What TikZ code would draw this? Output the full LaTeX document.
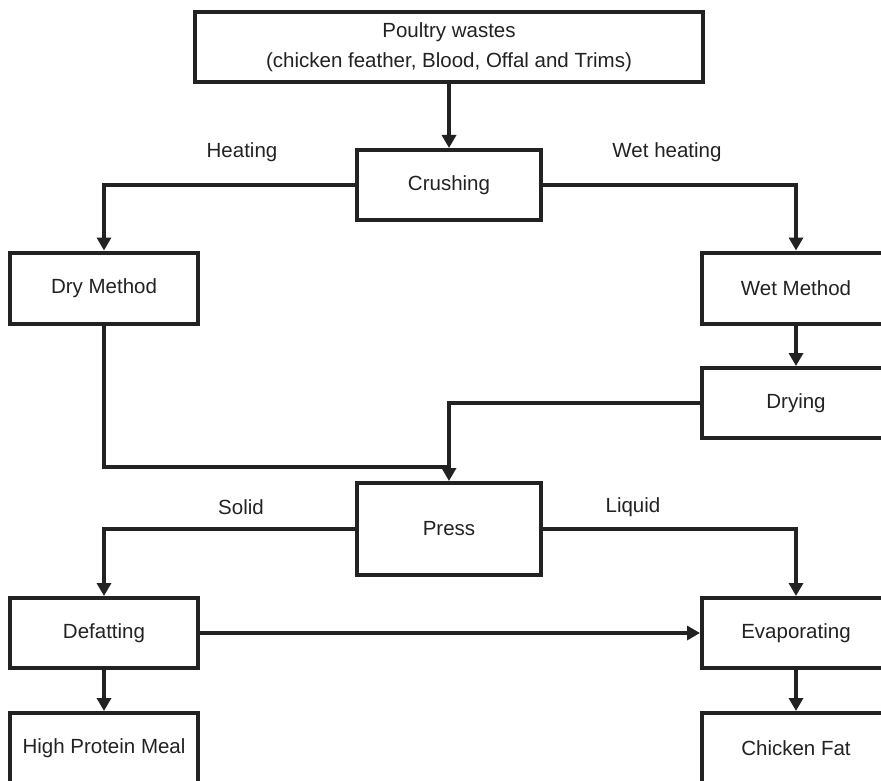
\documentclass[tikz,border=0pt]{standalone}
\usepackage{fontspec}
\setmainfont{Liberation Sans}
\usetikzlibrary{arrows.meta}
\definecolor{ink}{HTML}{222222}
\begin{document}
\begin{tikzpicture}[x=1pt,y=-1pt,
  box/.style={draw=ink,line width=4pt,fill=white,inner sep=0pt,text=ink,
    font=\fontsize{20.5}{30}\selectfont,align=center},
  flow/.style={draw=ink,line width=3.8pt,line join=miter,
    -{Triangle[width=14pt,length=13pt]}},
  link/.style={draw=ink,line width=3.8pt,line join=miter},
  lbl/.style={text=ink,font=\fontsize{20.5}{24}\selectfont,inner sep=0pt}]
\useasboundingbox (0,0) rectangle (881,781);
\clip (0,0) rectangle (881,781);
% process steps
\node[box,minimum width=508pt,minimum height=70pt] (waste) at (449,47)
  {Poultry wastes\\(chicken feather, Blood, Offal and Trims)};
\node[box,minimum width=184pt,minimum height=70pt] (crush) at (449,185) {Crushing};
\node[box,minimum width=188pt,minimum height=71pt] (dry) at (104,288) {Dry Method};
\node[box,minimum width=188pt,minimum height=71pt] (wet) at (796,288) {Wet Method};
\node[box,minimum width=188pt,minimum height=70pt] (drying) at (796,403) {Drying};
\node[box,minimum width=184pt,minimum height=92pt] (press) at (449,529) {Press};
\node[box,minimum width=188pt,minimum height=70pt] (defat) at (104,633) {Defatting};
\node[box,minimum width=188pt,minimum height=70pt] (evap) at (796,633) {Evaporating};
\node[box,minimum width=188pt,minimum height=70pt] (meal) at (104,748) {High Protein Meal};
\node[box,minimum width=188pt,minimum height=70pt] (fat) at (796,748) {Chicken Fat};
% bends of the routed connectors
\coordinate (dryturn) at (104,467);
\coordinate (dryjoin) at (449,467);
\coordinate (dryingturn) at (449,403);
% connectors
\draw[flow] (waste.south) -- (crush.north);
\draw[flow] (crush.west) -| (dry.north);
\draw[flow] (crush.east) -| (wet.north);
\draw[flow] (wet.south) -- (drying.north);
\draw[link] (dry.south) -- (dryturn) -- (dryjoin);
\draw[flow] (drying.west) -- (dryingturn) -- (press.north);
\draw[flow] (press.west) -| (defat.north);
\draw[flow] (press.east) -| (evap.north);
\draw[flow] (defat.east) -- (evap.west);
\draw[flow] (defat.south) -- (meal.north);
\draw[flow] (evap.south) -- (fat.north);
% branch labels
\node[lbl] (heat) at (242,152) {Heating};
\node[lbl] (wetheat) at (667,152) {Wet heating};
\node[lbl] (solid) at (241,507) {Solid};
\node[lbl] (liquid) at (633,507) {Liquid};
\end{tikzpicture}
\end{document}
